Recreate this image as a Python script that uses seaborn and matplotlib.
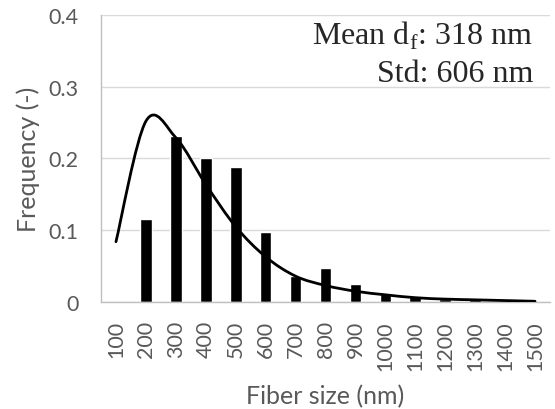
import numpy as np
import pandas as pd
import matplotlib
matplotlib.use("Agg")
import matplotlib.pyplot as plt
from matplotlib.path import Path
from matplotlib.patches import PathPatch
import seaborn as sns

# ---- data ----
sizes = ["100", "200", "300", "400", "500", "600", "700", "800",
         "900", "1000", "1100", "1200", "1300", "1400", "1500"]
frequency = [0.0, 0.116, 0.231, 0.200, 0.188, 0.097, 0.036, 0.047,
             0.025, 0.013, 0.009, 0.004, 0.005, 0.002, 0.001]
fit_curve = [0.084, 0.252, 0.229, 0.164, 0.105, 0.063, 0.036, 0.023,
             0.015, 0.010, 0.006, 0.004, 0.003, 0.002, 0.001]
yticks = [0, 0.1, 0.2, 0.3, 0.4]
ytick_labels = ["0", "0.1", "0.2", "0.3", "0.4"]
annot_lines = ["Mean d$_\\mathrm{f}$: 318 nm", "Std: 606 nm"]

sns.set_theme(style="white")
plt.rcParams["font.family"] = ["Lato", "DejaVu Sans"]
plt.rcParams["mathtext.fontset"] = "custom"
plt.rcParams["mathtext.rm"] = "Liberation Serif"

df = pd.DataFrame({"size": sizes, "freq": frequency})

fig = plt.figure(figsize=(5.55, 4.10), dpi=100)
ax = fig.add_axes([0.182, 0.261, 0.809, 0.700])

for y in yticks:
    ax.axhline(y, color="#d9d9d9", lw=1.0, zorder=0)

sns.barplot(data=df, x="size", y="freq", color="black", width=0.39,
            saturation=1, ax=ax, zorder=2)

# smooth (Catmull-Rom style Bezier) line through fitted values
xs = np.arange(len(fit_curve), dtype=float)
ys = np.array(fit_curve)
verts = [(xs[0], ys[0])]
codes = [Path.MOVETO]
n = len(xs)
for i in range(n - 1):
    p0 = (xs[i - 1], ys[i - 1]) if i > 0 else (xs[i], ys[i])
    p1 = (xs[i], ys[i])
    p2 = (xs[i + 1], ys[i + 1])
    p3 = (xs[i + 2], ys[i + 2]) if i + 2 < n else (xs[i + 1], ys[i + 1])
    c1 = (p1[0] + (p2[0] - p0[0]) / 6, p1[1] + (p2[1] - p0[1]) / 6)
    c2 = (p2[0] - (p3[0] - p1[0]) / 6, p2[1] - (p3[1] - p1[1]) / 6)
    verts += [c1, c2, p2]
    codes += [Path.CURVE4] * 3
ax.add_patch(PathPatch(Path(verts, codes), facecolor="none",
                       edgecolor="black", lw=2.0, zorder=3,
                       capstyle="round", joinstyle="round"))

ax.set_xlim(-0.5, len(sizes) - 0.5)
ax.set_ylim(0, 0.4)
ax.set_yticks(yticks)
ax.set_yticklabels(ytick_labels)
ax.tick_params(axis="x", rotation=90, labelsize=15.5, colors="#595959", pad=13, length=0)
ax.tick_params(axis="y", labelsize=15.5, colors="#595959", pad=16, length=0)
ax.set_xlabel("Fiber size (nm)", fontsize=18, color="#595959", labelpad=10)
ax.set_ylabel("Frequency (-)", fontsize=18, color="#595959", labelpad=6)

for s in ["top", "right"]:
    ax.spines[s].set_visible(False)
for s in ["left", "bottom"]:
    ax.spines[s].set_color("#bfbfbf")
    ax.spines[s].set_linewidth(1.0)

ax.text(0.962, 0.902, annot_lines[0], transform=ax.transAxes, ha="right",
        va="baseline", fontsize=23, family="Liberation Serif", zorder=4)
ax.text(0.962, 0.770, annot_lines[1], transform=ax.transAxes, ha="right",
        va="baseline", fontsize=23, family="Liberation Serif", zorder=4)

fig.savefig("out.png", dpi=100)
